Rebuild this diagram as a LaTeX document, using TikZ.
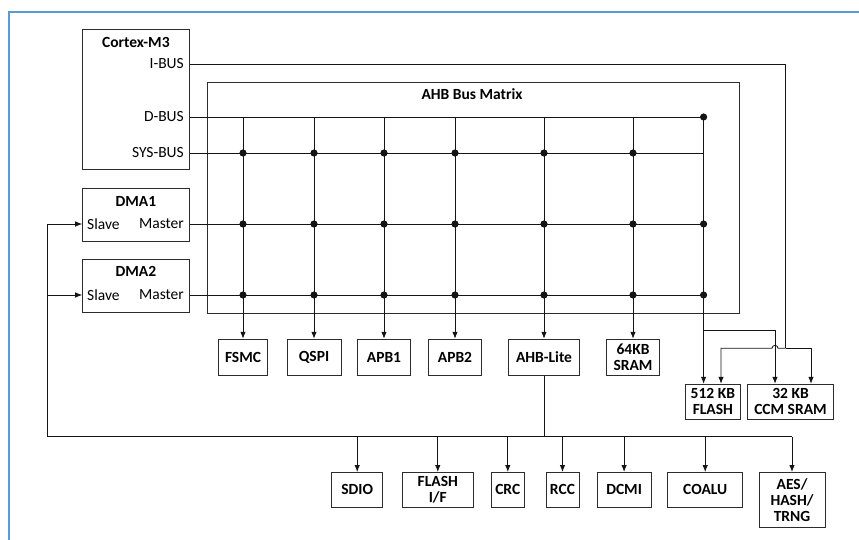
\documentclass[tikz,border=0pt]{standalone}
\usepackage{fontspec}
\setmainfont{Carlito}
\usetikzlibrary{arrows.meta}
\definecolor{frameblue}{RGB}{91,155,213}
\definecolor{ln}{RGB}{20,20,20}
\begin{document}
\begin{tikzpicture}[x=1pt,y=-1pt,
  box/.style={draw=ln!90!white, line width=1pt, inner sep=0pt, align=center, font=\fontsize{15.5}{16}\selectfont\bfseries},
  lbl/.style={inner sep=0pt, font=\fontsize{15.5}{16}\selectfont},
  ttl/.style={inner sep=0pt, font=\fontsize{15.5}{16}\selectfont\bfseries},
  wire/.style={draw=ln, line width=0.85pt},
  arr/.style={wire, -{Latex[length=7pt,width=5.5pt]}},
  jdot/.style={circle, fill=ln, inner sep=0pt, minimum size=7.2pt}
]
\useasboundingbox (0,0) rectangle (859,540);
\draw[frameblue, line width=1.2pt] (9,540) -- (9,12) -- (859,12);

% masters
\node[box, minimum width=106.3pt, minimum height=140pt] (cortex) at (135.85,100) {};
\node[ttl] (cmtitle) at (135.85,42) {Cortex-M3};
\node[lbl, anchor=east] (ibus) at (184,64) {I-BUS};
\node[lbl, anchor=east] (dbus) at (184,117) {D-BUS};
\node[lbl, anchor=east] (sbus) at (184,153) {SYS-BUS};

\node[box, minimum width=106.3pt, minimum height=52.7pt] (dma1) at (135.85,214.65) {};
\node[ttl] (d1title) at (135.85,201) {DMA1};
\node[lbl, anchor=west] (s1) at (87,224) {Slave};
\node[lbl, anchor=east] (m1) at (184,224) {Master};

\node[box, minimum width=106.3pt, minimum height=53.4pt] (dma2) at (135.85,286) {};
\node[ttl] (d2title) at (135.85,271) {DMA2};
\node[lbl, anchor=west] (s2) at (87,295) {Slave};
\node[lbl, anchor=east] (m2) at (184,295) {Master};

% matrix
\node[box, minimum width=532pt, minimum height=230.7pt] (ahb) at (473,197.65) {};
\node[ttl] (ahbtitle) at (472,94) {AHB Bus Matrix};

% slaves
\node[box, minimum width=49.4pt, minimum height=35.7pt] (fsmc) at (243,357.15) {FSMC};
\node[box, minimum width=54pt, minimum height=35.7pt] (qspi) at (314,357.15) {QSPI};
\node[box, minimum width=53.4pt, minimum height=35.7pt] (apb1) at (384,357.15) {APB1};
\node[box, minimum width=53.4pt, minimum height=35.7pt] (apb2) at (455,357.15) {APB2};
\node[box, minimum width=70.3pt, minimum height=35.7pt] (ahblite) at (544,357.15) {AHB-Lite};
\node[box, minimum width=53.3pt, minimum height=35.7pt] (sram) at (633,357.15) {64KB\\SRAM};
\node[box, minimum width=54.3pt, minimum height=34.7pt] (flash) at (712.85,401.65) {512 KB\\FLASH};
\node[box, minimum width=85.6pt, minimum height=34.7pt] (ccm) at (790.5,401.65) {32 KB\\CCM SRAM};

\node[box, minimum width=51pt, minimum height=34.5pt] (sdio) at (357.2,489.75) {SDIO};
\node[box, minimum width=71pt, minimum height=34.5pt] (flif) at (437.8,489.75) {FLASH\\I/F};
\node[box, minimum width=32.7pt, minimum height=34.5pt] (crc) at (507.8,489.75) {CRC};
\node[box, minimum width=33pt, minimum height=34.5pt] (rcc) at (562.5,489.75) {RCC};
\node[box, minimum width=53.8pt, minimum height=34.5pt] (dcmi) at (624.1,489.75) {DCMI};
\node[box, minimum width=74.5pt, minimum height=34.5pt] (coalu) at (705.2,489.75) {COALU};
\node[box, minimum width=66pt, minimum height=54.5pt] (aes) at (792,499.75) {AES/\\HASH/\\TRNG};

% coordinates
\coordinate (c7top) at (703.6,117);
\coordinate (ibc) at (785.7,64);
\coordinate (ibj) at (785.7,348.3);
\coordinate (brj) at (703.6,330.7);
\coordinate (busl) at (47,436.7);
\coordinate (busr) at (792,436.7);

% rows
\draw[wire] (dbus -| cortex.east) -- (c7top);
\draw[wire] (sbus -| cortex.east) -- (sbus -| c7top);
\draw[wire] (m1 -| dma1.east) -- (m1 -| c7top);
\draw[wire] (m2 -| dma2.east) -- (m2 -| c7top);

% columns
\foreach \n in {fsmc,qspi,apb1,apb2,ahblite,sram}{
  \draw[arr] (\n.north |- c7top) -- (\n.north);
  \node[jdot] at (\n.north |- sbus) {};
  \node[jdot] at (\n.north |- m1) {};
  \node[jdot] at (\n.north |- m2) {};
}
\node[jdot] at (c7top) {};
\node[jdot] at (m1 -| c7top) {};
\node[jdot] at (m2 -| c7top) {};

% flash / ccm
\draw[arr] (c7top) -- (c7top |- flash.north);
\draw[arr] (brj) -| ([xshift=-15.5pt]ccm.north);
\draw[wire] (ibus -| cortex.east) -- (ibc) -- (ibj);
\draw[arr] (ibj) -- ([xshift=-7.7pt]ibj) arc[start angle=0,end angle=-180,radius=3] -| ([xshift=8.15pt]flash.north);
\draw[arr] (ibj) -| ([xshift=20.5pt]ccm.north);

% AHB-Lite bus
\draw[wire] (ahblite.south) -- (ahblite.south |- busl);
\draw[wire] (busl) -- (busr);
\draw[arr] (busl) |- (s1 -| dma1.west);
\draw[arr] (busl |- s2) -- (s2 -| dma2.west);
\foreach \n in {sdio,flif,crc,rcc,dcmi,coalu,aes}{
  \draw[arr] (\n.north |- busl) -- (\n.north);
}
\end{tikzpicture}
\end{document}
